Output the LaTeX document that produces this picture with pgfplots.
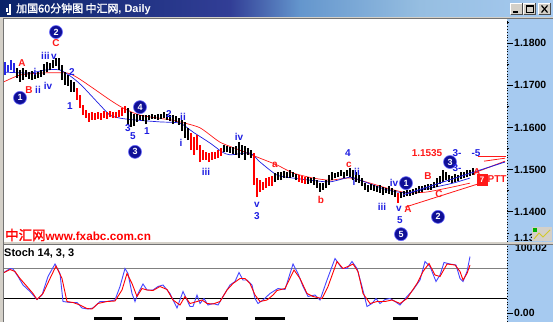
\documentclass[border=0pt]{standalone}
\usepackage{pgfplots}
\usepackage{pgfplotstable}
\pgfplotsset{compat=1.18}
\usepackage{fontspec}
\setmainfont{Liberation Sans}
\newfontfamily\cjk[FakeBold=1.5]{Noto Sans CJK SC}
\definecolor{skyb}{RGB}{166,202,240}
\definecolor{wgray}{RGB}{212,208,200}
\definecolor{navy}{RGB}{10,36,106}
\definecolor{tb2}{RGB}{50,62,150}
\definecolor{tb3}{RGB}{100,150,205}
\definecolor{tb4}{RGB}{150,190,225}
\definecolor{wblue}{RGB}{30,30,225}
\definecolor{wred}{RGB}{255,25,25}
\definecolor{circ}{RGB}{15,15,150}
\definecolor{stblue}{RGB}{70,70,255}
\definecolor{bbar}{RGB}{40,40,230}

\pgfplotstableread{
x l h
5 1.1724 1.1755
8 1.1731 1.1748
11 1.1736 1.1760
14 1.1729 1.1753
}\bluebars

\pgfplotstableread{
x l h
17 1.1717 1.1741
20 1.1708 1.1736
23 1.1712 1.1741
26 1.1719 1.1736
29 1.1715 1.1731
32 1.1712 1.1734
35 1.1715 1.1729
38 1.1717 1.1731
41 1.1719 1.1736
44 1.1724 1.1750
47 1.1731 1.1755
50 1.1736 1.1753
53 1.1741 1.1760
56 1.1745 1.1764
59 1.1736 1.1764
62 1.1712 1.1748
65 1.1700 1.1731
68 1.1698 1.1724
71 1.1684 1.1712
74 1.1684 1.1708
128 1.1606 1.1646
131 1.1601 1.1636
134 1.1603 1.1632
137 1.1613 1.1632
140 1.1618 1.1629
143 1.1615 1.1629
146 1.1608 1.1629
149 1.1618 1.1629
152 1.1620 1.1632
155 1.1620 1.1629
158 1.1618 1.1632
161 1.1620 1.1632
164 1.1622 1.1636
167 1.1618 1.1632
170 1.1615 1.1629
173 1.1608 1.1629
176 1.1613 1.1627
179 1.1606 1.1622
182 1.1591 1.1618
185 1.1575 1.1613
188 1.1570 1.1599
224 1.1542 1.1558
227 1.1542 1.1556
230 1.1539 1.1554
233 1.1537 1.1554
236 1.1535 1.1556
239 1.1527 1.1565
242 1.1535 1.1558
245 1.1523 1.1556
248 1.1535 1.1551
251 1.1527 1.1546
275 1.1471 1.1492
278 1.1475 1.1494
281 1.1475 1.1494
284 1.1480 1.1497
287 1.1480 1.1494
290 1.1480 1.1499
293 1.1482 1.1494
296 1.1475 1.1490
308 1.1466 1.1482
311 1.1468 1.1480
314 1.1463 1.1482
317 1.1456 1.1475
320 1.1447 1.1468
323 1.1452 1.1468
326 1.1456 1.1475
329 1.1463 1.1487
332 1.1475 1.1494
335 1.1480 1.1492
338 1.1482 1.1494
341 1.1485 1.1499
344 1.1480 1.1494
347 1.1485 1.1499
350 1.1482 1.1504
353 1.1475 1.1499
356 1.1471 1.1494
359 1.1468 1.1487
362 1.1461 1.1480
365 1.1452 1.1468
368 1.1447 1.1463
371 1.1452 1.1466
374 1.1449 1.1463
377 1.1447 1.1461
380 1.1445 1.1463
383 1.1440 1.1459
386 1.1445 1.1456
389 1.1442 1.1461
392 1.1440 1.1456
395 1.1435 1.1452
401 1.1433 1.1447
404 1.1435 1.1449
407 1.1437 1.1452
410 1.1437 1.1452
413 1.1440 1.1454
416 1.1442 1.1456
419 1.1445 1.1461
422 1.1447 1.1461
425 1.1452 1.1463
428 1.1452 1.1466
431 1.1452 1.1466
434 1.1456 1.1471
437 1.1459 1.1480
440 1.1466 1.1485
443 1.1471 1.1499
446 1.1475 1.1494
449 1.1471 1.1487
452 1.1468 1.1485
455 1.1471 1.1490
458 1.1473 1.1487
461 1.1478 1.1494
464 1.1480 1.1494
467 1.1482 1.1499
470 1.1485 1.1499
473 1.1487 1.1504
}\blackbars

\pgfplotstableread{
x l h
77 1.1665 1.1693
80 1.1646 1.1677
83 1.1629 1.1653
86 1.1622 1.1641
89 1.1613 1.1634
92 1.1618 1.1636
95 1.1618 1.1634
98 1.1620 1.1636
101 1.1618 1.1634
104 1.1622 1.1639
107 1.1620 1.1636
110 1.1625 1.1639
113 1.1622 1.1636
116 1.1622 1.1636
119 1.1625 1.1641
122 1.1627 1.1646
125 1.1634 1.1651
191 1.1546 1.1587
194 1.1535 1.1577
197 1.1546 1.1582
200 1.1518 1.1558
203 1.1523 1.1546
206 1.1523 1.1542
209 1.1518 1.1539
212 1.1523 1.1542
215 1.1525 1.1542
218 1.1527 1.1546
221 1.1532 1.1551
254 1.1463 1.1539
257 1.1435 1.1480
260 1.1447 1.1475
263 1.1452 1.1471
266 1.1456 1.1480
269 1.1461 1.1482
272 1.1461 1.1485
299 1.1471 1.1487
302 1.1468 1.1485
305 1.1466 1.1482
398 1.1421 1.1445
}\redbars

\tikzset{
 bl/.style={text=wblue, font=\bfseries\fontsize{10}{10}\selectfont, inner sep=0pt},
 rl/.style={text=wred, font=\bfseries\fontsize{10}{10}\selectfont, inner sep=0pt},
 cn/.style={circle, fill=circ, draw=blue!60!white, line width=0.6bp, text=white, font=\bfseries\fontsize{9}{9}\selectfont, inner sep=0pt, minimum size=13bp},
}
\pgfplotsset{
 bars/.style={draw=none, mark=none, forget plot, error bars/.cd, y dir=plus, y explicit, error mark=none},
}

\begin{document}
\begin{tikzpicture}[x=1bp,y=1bp]
\useasboundingbox (0,0) rectangle (553,322);
% window background
\fill[wgray] (0,0) rectangle (553,322);
\fill[white] (4,80) rectangle (507,303);
\fill[white] (4,0) rectangle (507,77);
\fill[skyb] (507,80) rectangle (553,303);
\fill[skyb] (507,0) rectangle (553,77);
\draw[black!55] (3.5,0) -- (3.5,303.5) -- (553,303.5);
\draw[black!55] (3.5,77.5) -- (553,77.5);
% title bar
\shade[left color=navy, right color=tb2] (0,305) rectangle (230,322);
\shade[left color=tb2, right color=tb3] (230,305) rectangle (300,322);
\shade[left color=tb3, right color=tb4] (300,305) rectangle (420,322);
\shade[left color=tb4, right color=skyb] (420,305) rectangle (553,322);
\draw[white, line width=1.2bp] (10,318) -- (10,308) -- (7,308);
\draw[white, line width=1.2bp] (7,314) -- (7,310);
\node[anchor=west, text=white, inner sep=0pt] at (16,313) {\cjk\fontsize{11}{11}\selectfont 加国60分钟图 中汇网\rmfamily\bfseries\fontsize{11}{11}\selectfont, Daily};
% window buttons
\foreach \bx in {510,523,538} {
  \fill[wgray] (\bx,307) rectangle (\bx+13,319);
  \draw[white] (\bx+0.5,307.5) -- (\bx+0.5,318.5) -- (\bx+12.5,318.5);
  \draw[black!70] (\bx+0.5,307.5) -- (\bx+12.5,307.5) -- (\bx+12.5,318.5);
}
\draw[black, line width=1.5bp] (513,310) -- (518,310);
\draw[black, line width=0.8bp] (526,309.5) rectangle (533,316.5);
\draw[black, line width=1.6bp] (526,316) -- (533,316);
\draw[black, line width=1.2bp] (541.5,309.5) -- (547.5,316.5) (541.5,316.5) -- (547.5,309.5);

% ---------------- main price panel ----------------
\begin{axis}[at={(4bp,80bp)}, anchor=south west, scale only axis,
  width=503bp, height=223bp,
  xmin=4, xmax=507, ymin=1.132844, ymax=1.185687,
  axis line style={draw=none}, xtick=\empty,
  ytick={1.14,1.15,1.16,1.17,1.18},
  yticklabels={1.1400,1.1500,1.1600,1.1700,1.1800},
  minor ytick={1.135,1.145,1.155,1.165,1.175,1.185},
  ytick pos=right, yticklabel pos=right, tick align=outside,
  major tick length=6bp, minor tick length=2bp,
  tick style={black, line width=0.7bp},
  yticklabel style={anchor=west, inner sep=0pt, xshift=1bp, font=\bfseries\fontsize{10.5}{10.5}\selectfont},
]
% moving averages
\addplot[wred, line width=0.7bp, smooth, tension=0.4] coordinates {
(4,1.1708) (20,1.1724) (43,1.1729) (67,1.1729) (78,1.1717) (93,1.1693) (110,1.1665)
(123,1.1646) (140,1.1629) (170,1.1618) (180,1.1613) (200,1.1599) (220,1.1565)
(240,1.1546) (260,1.1527) (277,1.1511) (293,1.1492) (313,1.1480) (330,1.1475)
(350,1.1480) (370,1.1468) (387,1.1456) (407,1.1445) (427,1.1447) (453,1.1459) (470,1.1468)};
\addplot[wblue, line width=0.7bp, smooth, tension=0.4] coordinates {
(4,1.1731) (30,1.1729) (45,1.1736) (60,1.1736) (73,1.1717) (83,1.1696) (100,1.1653)
(110,1.1629) (120,1.1622) (133,1.1618) (160,1.1613) (180,1.1610) (193,1.1589)
(210,1.1563) (222,1.1542) (230,1.1535) (250,1.1539) (260,1.1518) (277,1.1487)
(293,1.1480) (310,1.1475) (330,1.1471) (350,1.1482) (360,1.1475) (387,1.1452)
(407,1.1445) (430,1.1456) (453,1.1468) (470,1.1480)};
% price bars
\addplot[bars, error bar style={black, line width=1.8bp}] table[x=x, y=l, y error expr=\thisrow{h}-\thisrow{l}] {\blackbars};
\addplot[bars, error bar style={red, line width=1.8bp}] table[x=x, y=l, y error expr=\thisrow{h}-\thisrow{l}] {\redbars};
\addplot[bars, error bar style={bbar, line width=1.8bp}] table[x=x, y=l, y error expr=\thisrow{h}-\thisrow{l}] {\bluebars};
% trend lines
\addplot[wred, line width=0.8bp] coordinates {(405,1.1411) (478,1.1466)};
\addplot[wred, line width=0.8bp] coordinates {(474,1.1492) (505,1.1520)};
\addplot[wred, line width=0.8bp] coordinates {(478,1.1532) (506,1.1532)};
\addplot[wred, line width=0.8bp] coordinates {(484,1.1520) (505,1.1527)};
\addplot[wblue, line width=0.8bp] coordinates {(403,1.1440) (505,1.1518)};
\draw[wred, fill=wred] (axis cs:477,1.1463) rectangle (axis cs:487,1.1490);
\node[text=white, font=\bfseries\fontsize{8}{8}\selectfont, inner sep=0pt] at (axis cs:482,1.1477) {7};
% wave labels
\node[rl] at (axis cs:22,1.1753) {A};
\node[rl] at (axis cs:29,1.1689) {B};
\node[bl] at (axis cs:35,1.1731) {i};
\node[bl] at (axis cs:38,1.1689) {ii};
\node[cn] at (axis cs:20,1.1670) {1};
\node[bl] at (axis cs:49,1.1769) {iii\,v};
\node[bl] at (axis cs:48,1.1698) {iv};
\node[rl] at (axis cs:56,1.1800) {C};
\node[cn] at (axis cs:56,1.1826) {2};
\node[bl] at (axis cs:72,1.1731) {2};
\node[bl] at (axis cs:70,1.1651) {1};
\node[cn] at (axis cs:140,1.1648) {4};
\node[bl] at (axis cs:128,1.1599) {3};
\node[bl] at (axis cs:133,1.1580) {5};
\node[cn] at (axis cs:135,1.1542) {3};
\node[bl] at (axis cs:147,1.1591) {1};
\node[bl] at (axis cs:169,1.1632) {2};
\node[bl] at (axis cs:183,1.1625) {ii};
\node[bl] at (axis cs:181,1.1563) {i};
\node[bl] at (axis cs:206,1.1494) {iii};
\node[bl] at (axis cs:239,1.1577) {iv};
\node[rl] at (axis cs:275,1.1511) {a};
\node[bl] at (axis cs:257,1.1416) {v};
\node[bl] at (axis cs:257,1.1390) {3};
\node[rl] at (axis cs:321,1.1428) {b};
\node[bl] at (axis cs:348,1.1539) {4};
\node[rl] at (axis cs:349,1.1511) {c};
\node[bl] at (axis cs:357,1.1494) {ii};
\node[bl] at (axis cs:354,1.1471) {i};
\node[bl] at (axis cs:382,1.1411) {iii};
\node[bl] at (axis cs:394,1.1468) {iv};
\node[cn] at (axis cs:406,1.1468) {1};
\node[bl] at (axis cs:399,1.1407) {v};
\node[rl] at (axis cs:408,1.1407) {A};
\node[bl] at (axis cs:400,1.1381) {5};
\node[cn] at (axis cs:401,1.1347) {5};
\node[rl] at (axis cs:428,1.1485) {B};
\node[rl] at (axis cs:439,1.1442) {C};
\node[cn] at (axis cs:438,1.1388) {2};
\node[rl] at (axis cs:427,1.1539) {1.1535};
\node[bl] at (axis cs:457,1.1539) {3-};
\node[bl] at (axis cs:476,1.1539) {-5};
\node[cn] at (axis cs:450,1.1518) {3};
\node[bl] at (axis cs:457,1.1504) {3-};
\node[rl] at (axis cs:477,1.1494) {A};
\node[rl] at (axis cs:497,1.1478) {PTT};
\end{axis}

% watermark
\node[anchor=west, text=red, inner sep=0pt] at (5,87) {\cjk\fontsize{13.5}{13.5}\selectfont 中汇网\rmfamily\bfseries\fontsize{11.8}{11.8}\selectfont www.fxabc.com.cn};

% ---------------- stochastic panel ----------------
\begin{axis}[at={(4bp,1bp)}, anchor=south west, scale only axis,
  width=503bp, height=76bp,
  xmin=4, xmax=507, ymin=-26, ymax=126,
  axis line style={draw=none}, xtick=\empty, ytick=\empty]
\addplot[black!50, line width=1bp] coordinates {(4,80) (507,80)};
\addplot[black, line width=1bp] coordinates {(4,20) (507,20)};
\addplot[stblue, line width=0.9bp] coordinates {
(4,71) (10,79) (13,78) (18,63) (23,46) (30,33) (37,17) (42,26) (48,63) (55,88) (60,69)
(63,13) (70,11) (77,11) (82,0) (88,-2) (93,0) (100,13) (107,13) (115,16) (120,43)
(125,79) (128,69) (132,29) (135,13) (138,29) (143,48) (147,36) (153,36) (158,43)
(163,46) (170,29) (177,0) (183,33) (187,16) (190,3) (193,3) (197,26) (200,9) (204,19)
(208,6) (213,9) (218,6) (223,23) (230,46) (235,53) (239,71) (243,56) (247,56) (252,46)
(255,19) (258,9) (263,16) (270,29) (278,39) (285,37) (293,88) (298,69) (303,43)
(308,23) (315,26) (320,16) (327,56) (335,99) (342,79) (347,79) (352,93) (357,79)
(362,43) (367,3) (372,9) (376,19) (380,9) (385,17) (390,19) (395,13) (400,6) (407,23)
(413,36) (420,56) (425,93) (430,83) (436,53) (440,66) (444,91) (450,88) (456,86)
(460,59) (463,53) (467,73) (470,103)};
\addplot[red, line width=0.9bp] coordinates {
(4,71) (10,77) (15,73) (20,59) (27,43) (33,29) (37,17) (43,29) (50,59) (56,84) (62,59)
(67,13) (73,11) (80,6) (87,-1) (92,-2) (98,9) (107,13) (115,14) (122,36) (127,69)
(132,49) (137,23) (142,39) (147,36) (153,35) (160,43) (167,37) (173,16) (180,6)
(185,23) (190,9) (197,13) (202,16) (207,9) (213,8) (220,13) (227,36) (233,49) (240,59)
(245,59) (250,49) (255,26) (260,13) (267,16) (273,26) (277,35) (285,39) (294,76)
(300,59) (307,29) (313,23) (322,19) (328,43) (337,93) (343,79) (348,83) (353,88)
(358,73) (363,29) (370,9) (377,13) (385,13) (392,16) (400,9) (407,19) (417,49)
(423,73) (429,89) (435,66) (440,63) (447,88) (455,86) (460,73) (463,56) (467,69) (470,86)};
\addplot[black, line width=3bp] coordinates {(94,-20) (122,-20)};
\addplot[black, line width=3bp] coordinates {(134,-20) (160,-20)};
\addplot[black, line width=3bp] coordinates {(186,-20) (228,-20)};
\addplot[black, line width=3bp] coordinates {(255,-20) (285,-20)};
\addplot[black, line width=3bp] coordinates {(393,-20) (418,-20)};
\end{axis}
\node[anchor=west, inner sep=0pt, font=\bfseries\fontsize{11}{11}\selectfont] at (4,69) {Stoch 14, 3, 3};

% right panels decorations
\draw[black, dotted, line width=0.8bp] (507.5,80) -- (507.5,303);
\draw[black, dotted, line width=0.8bp] (507.5,0) -- (507.5,77);
\begin{scope}
\clip (507,80) rectangle (553,303);
\node[anchor=west, inner sep=0pt, font=\bfseries\fontsize{10.5}{10.5}\selectfont] at (514,84) {1.1329};
\fill[wgray] (532,81) rectangle (552,95);
\fill[green!70!black] (533,90) rectangle (537,94);
\draw[yellow!80!black, line width=1bp] (534,83) -- (539,89) -- (543,85) -- (550,92);
\end{scope}
\begin{scope}
\clip (507,0) rectangle (553,77);
\node[anchor=center, inner sep=0pt, font=\bfseries\fontsize{10.5}{10.5}\selectfont] at (531,74.5) {100.02};
\draw[black, line width=0.7bp] (508,9) -- (513,9);
\node[anchor=west, inner sep=0pt, font=\bfseries\fontsize{10.5}{10.5}\selectfont] at (514,9) {0.00};
\end{scope}
\end{tikzpicture}
\end{document}
